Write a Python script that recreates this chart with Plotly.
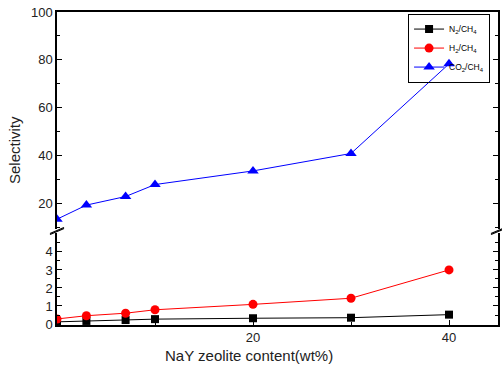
import plotly.graph_objects as go

x_vals = [0, 3, 7, 10, 20, 30, 40]
n2_ch4 = [0.12, 0.17, 0.22, 0.27, 0.32, 0.35, 0.52]
h2_ch4 = [0.28, 0.46, 0.6, 0.79, 1.09, 1.43, 3.0]
co2_ch4 = [13.3, 19.2, 22.8, 27.8, 33.5, 40.8, 78.3]

x_ticks = [20, 40]
y_low_ticks = [0, 1, 2, 3, 4]
y_high_ticks = [20, 40, 60, 80, 100]

fig = go.Figure()
fig.add_trace(go.Scatter(x=x_vals, y=n2_ch4, mode="lines+markers", name="N<sub>2</sub>/CH<sub>4</sub>",
                         line=dict(color="black", width=1), marker=dict(symbol="square", size=8, color="black"),
                         xaxis="x", yaxis="y"))
fig.add_trace(go.Scatter(x=x_vals, y=h2_ch4, mode="lines+markers", name="H<sub>2</sub>/CH<sub>4</sub>",
                         line=dict(color="red", width=1), marker=dict(symbol="circle", size=9, color="red"),
                         xaxis="x", yaxis="y"))
fig.add_trace(go.Scatter(x=x_vals, y=co2_ch4, mode="lines+markers", name="CO<sub>2</sub>/CH<sub>4</sub>",
                         line=dict(color="blue", width=1), marker=dict(symbol="triangle-up", size=10, color="blue"),
                         xaxis="x2", yaxis="y2"))

W, H = 441.0, 313.0
low_top = 92 / H
high_bot = 96 / H

font_family = "Liberation Sans, Arial"
axis_common = dict(showline=True, linecolor="black", linewidth=1.5, ticks="inside", tickcolor="black",
                   showgrid=False, zeroline=False, automargin=False,
                   tickfont=dict(family=font_family, size=13, color="#222"))

fig.update_layout(
    width=502, height=369,
    margin=dict(l=57, r=4, t=12, b=44),
    paper_bgcolor="white", plot_bgcolor="white",
    showlegend=True,
    legend=dict(x=0.982, y=0.995, xanchor="right", yanchor="top", bordercolor="black", borderwidth=1,
                bgcolor="rgba(255,255,255,0)", font=dict(family=font_family, size=8.5, color="black"),
                tracegroupgap=0, itemwidth=30),
    xaxis=dict(**axis_common, range=[0, 45], tickvals=x_ticks, ticklen=5, anchor="y", domain=[0, 1],
               minor=dict(tickvals=[10, 30], ticks="inside", ticklen=3, tickcolor="black")),
    xaxis2=dict(showline=True, linecolor="black", linewidth=1.5, range=[0, 45], matches="x", anchor="y2",
                side="top", showticklabels=False, ticks="", showgrid=False, zeroline=False, automargin=False),
    yaxis=dict(**axis_common, domain=[0, low_top], range=[-0.055, 5.05], tickvals=y_low_ticks, ticklen=5,
               mirror="ticks", minor=dict(dtick=0.5, ticks="inside", ticklen=3, tickcolor="black")),
    yaxis2=dict(**axis_common, domain=[high_bot, 1], range=[9.2, 100], tickvals=y_high_ticks, ticklen=5,
                mirror="ticks", anchor="x2", minor=dict(dtick=10, ticks="inside", ticklen=3, tickcolor="black")),
)

# axis titles (placed as in the reference, not centred on the domain)
fig.add_annotation(text="NaY zeolite content(wt%)", xref="paper", yref="paper",
                   x=(249 - 57) / W, y=(325 - 355) / H, showarrow=False,
                   xanchor="center", yanchor="middle", font=dict(family=font_family, size=15, color="#222"))
fig.add_annotation(text="Selectivity", xref="paper", yref="paper", textangle=-90,
                   x=(15 - 57) / W, y=(325 - 150) / H, showarrow=False,
                   xanchor="center", yanchor="middle", font=dict(family=font_family, size=15, color="#222"))

# axis break marks
dx = 7 / W
dy = 3 / H
for xp in [0, 1]:
    for yb in [low_top + 1.5 / H, high_bot - 1.5 / H]:
        fig.add_shape(type="line", xref="paper", yref="paper",
                      x0=xp - dx, y0=yb - dy, x1=xp + dx, y1=yb + dy,
                      line=dict(color="black", width=1.2))

fig.write_html("out.html")
